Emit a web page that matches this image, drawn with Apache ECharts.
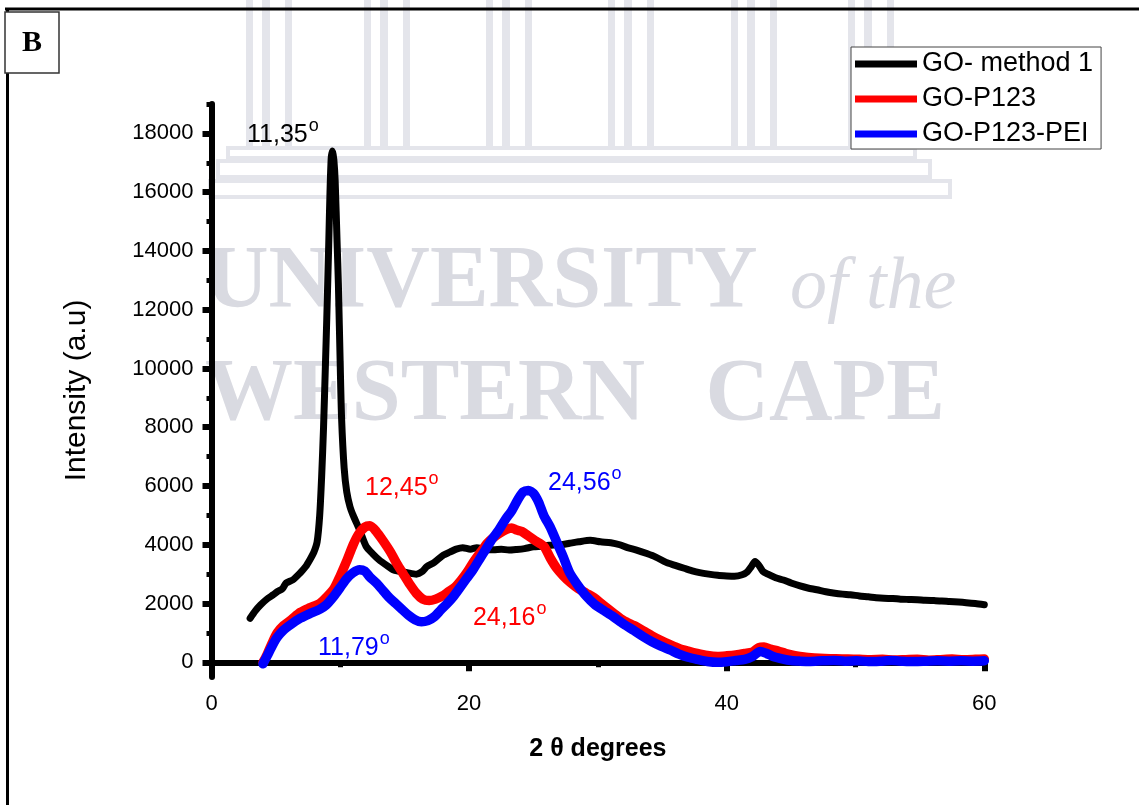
<!DOCTYPE html>
<html><head><meta charset="utf-8">
<script src="https://cdn.jsdelivr.net/npm/echarts@6/dist/echarts.min.js"></script>
<style>html,body{margin:0;padding:0;background:#fff}#c{width:1139px;height:805px}</style>
</head><body><div id="c"></div>
<script>
// ---------------- DATA ----------------
const seriesNames = ['GO- method 1', 'GO-P123', 'GO-P123-PEI'];
const seriesColors = ['#000000', '#ff0000', '#0000ff'];

const goX = [3.0,3.4,3.8,4.3,4.8,5.1,5.5,5.8,6.3,6.9,7.3,7.65,7.95,8.2,8.4,8.55,8.7,8.85,8.95,9.1,9.2,9.3,9.4,9.5,9.6,9.75,9.85,10.0,10.1,10.3,10.5,10.75,11.0,11.5,12.0,12.5,13.1,13.6,14.1,14.6,15.2,15.9,16.4,16.7,17.3,18.0,18.5,19.0,19.5,20.1,20.6,21.2,21.9,22.5,23.1,23.7,24.3,25.0,25.6,26.2,27.1,27.8,28.5,29.4,30.2,31.0,31.7,32.3,33.0,33.8,34.5,35.3,36.0,36.7,37.4,37.9,38.6,39.3,40.0,40.6,41.2,41.6,41.9,42.2,42.5,42.8,43.2,43.8,44.4,45.0,45.7,46.3,47.0,47.7,48.4,49.0,49.6,50.3,51.0,51.6,52.2,52.9,53.5,54.1,54.8,55.4,56.1,56.7,57.3,58.0,58.6,59.3,60.0];
const goY = [1500,1750,1950,2150,2300,2400,2500,2700,2800,3050,3250,3500,3750,4100,5000,6300,8000,10200,11700,14200,16000,17200,17400,17100,16400,14300,12900,10000,8300,6600,5800,5300,5000,4500,3950,3700,3450,3300,3150,3100,3050,3000,3100,3250,3400,3650,3750,3850,3900,3850,3900,3850,3830,3850,3820,3840,3870,3930,3950,3980,4000,4050,4100,4150,4100,4070,4000,3900,3820,3700,3580,3400,3300,3200,3100,3050,3000,2960,2940,2930,2980,3080,3250,3430,3300,3100,3000,2880,2800,2700,2600,2530,2470,2400,2350,2320,2300,2260,2230,2200,2180,2170,2150,2140,2130,2110,2100,2090,2070,2050,2030,2000,1960];

const p123X = [4.0,4.3,4.7,5.1,5.6,6.2,6.9,7.6,8.4,8.9,9.5,10.0,10.5,11.0,11.4,11.9,12.3,12.8,13.3,13.9,14.4,14.9,15.4,15.9,16.4,16.9,17.4,17.9,18.4,18.9,19.4,19.9,20.4,20.9,21.4,21.9,22.4,22.9,23.3,23.7,24.1,24.6,25.1,25.8,26.3,26.8,27.3,27.9,28.5,29.1,29.7,30.4,31.2,32.0,32.8,33.5,34.2,34.9,35.6,36.3,37.0,37.7,38.5,39.3,40.0,40.7,41.4,42.0,42.5,42.9,43.4,44.0,44.6,45.3,46.0,46.8,47.6,48.5,49.4,50.3,51.2,52.1,53.0,53.9,54.8,55.7,56.6,57.5,58.4,59.3,60.0];
const p123Y = [0,250,650,1000,1250,1450,1700,1850,2000,2200,2500,2950,3450,4000,4350,4600,4650,4450,4150,3750,3350,3000,2650,2350,2150,2100,2150,2250,2400,2550,2800,3100,3450,3750,4050,4250,4400,4520,4570,4500,4450,4300,4150,3950,3550,3200,2950,2700,2500,2350,2200,1950,1680,1420,1250,1080,900,740,600,470,380,300,230,200,220,250,300,350,500,520,450,380,300,230,180,150,130,120,110,100,90,100,80,90,100,70,90,110,90,100,110];

const peiX = [4.0,4.3,4.7,5.1,5.6,6.2,6.9,7.6,8.4,8.9,9.5,10.0,10.5,11.0,11.5,11.9,12.3,12.8,13.3,13.8,14.3,14.8,15.3,15.8,16.3,16.8,17.3,17.8,18.3,18.8,19.3,19.8,20.3,20.8,21.3,21.8,22.3,22.8,23.3,23.8,24.2,24.6,25.0,25.4,25.8,26.3,26.8,27.3,27.8,28.4,29.1,29.8,30.5,31.2,32.0,32.8,33.5,34.2,34.9,35.6,36.3,37.0,37.7,38.5,39.3,40.0,40.7,41.4,42.0,42.6,43.1,43.6,44.3,45.0,45.7,46.5,47.4,48.3,49.2,50.1,51.0,51.9,52.8,53.7,54.6,55.5,56.4,57.3,58.2,59.1,60.0];
const peiY = [-50,200,550,850,1100,1300,1500,1650,1800,1950,2250,2550,2850,3050,3150,3100,2900,2700,2450,2200,2000,1800,1600,1450,1380,1420,1550,1780,2000,2250,2550,2850,3150,3500,3850,4200,4500,4850,5150,5550,5800,5850,5750,5450,5000,4600,4100,3600,3050,2650,2250,1950,1750,1550,1300,1080,880,700,550,420,280,170,100,30,0,20,60,100,200,370,300,200,120,60,40,30,50,60,40,50,30,40,60,40,30,40,50,40,50,40,50];

const xTicks = [0, 20, 40, 60];
const yMajorTicks = [0,2000,4000,6000,8000,10000,12000,14000,16000,18000];
const yMinorTicks = [1000,3000,5000,7000,9000,11000,13000,15000,17000,19000];

const annotations = [
  {text: '11,35', x: 2.76, y: 17950, color: '#000000'},
  {text: '12,45', x: 11.92, y: 5940, color: '#ff0000'},
  {text: '24,56', x: 26.13, y: 6110, color: '#0000ff'},
  {text: '24,16', x: 20.3, y: 1510, color: '#ff0000'},
  {text: '11,79', x: 8.27, y: 490, color: '#0000ff'}
];

// ---------------- CHART ----------------
const FONT = "'Liberation Sans', Arial, sans-serif";
const SERIF = "'Liberation Serif', 'Times New Roman', serif";
const zip = (a, b) => a.map((v, i) => [v, b[i]]);
const seriesData = [zip(goX, goY), zip(p123X, p123Y), zip(peiX, peiY)];
const lineWidths = [7, 9.5, 9.5];

const chart = echarts.init(document.getElementById('c'), null, {renderer: 'canvas'});

// watermark (decorative background)
const wmColor = '#e4e5eb';
const wmText = '#d9dae1';
const wm = [];
[246, 364, 486, 608, 731, 848].forEach(gx => {
  [[0, 7], [16, 8], [39, 7]].forEach(([o, w]) => {
    wm.push({type: 'rect', shape: {x: gx + o, y: 0, width: w, height: 147}, style: {fill: wmColor}, z: 0, silent: true});
  });
});
[[228, 148, 687, 10], [218, 161, 712, 16], [210, 181, 740, 16]].forEach(([x, y, w, h]) => {
  wm.push({type: 'rect', shape: {x, y, width: w, height: h}, style: {fill: 'none', stroke: wmColor, lineWidth: 4}, z: 0, silent: true});
});
wm.push({type: 'text', x: 205, y: 283, style: {text: 'UNIVERSITY', fill: wmText, font: 'bold 88px ' + SERIF, align: 'left', verticalAlign: 'middle'}, z: 0, silent: true});
wm.push({type: 'text', x: 790, y: 289, style: {text: 'of the', fill: wmText, font: 'italic 74px ' + SERIF, align: 'left', verticalAlign: 'middle'}, z: 0, silent: true});
wm.push({type: 'text', x: 205, y: 396, style: {text: 'WESTERN', fill: wmText, font: 'bold 88px ' + SERIF, align: 'left', verticalAlign: 'middle'}, z: 0, silent: true});
wm.push({type: 'text', x: 945, y: 396, style: {text: 'CAPE', fill: wmText, font: 'bold 88px ' + SERIF, align: 'right', verticalAlign: 'middle'}, z: 0, silent: true});

// frame + panel letter
const frame = [
  {type: 'line', shape: {x1: 5, y1: 9, x2: 1139, y2: 9}, style: {stroke: '#000', lineWidth: 3}, z: 100},
  {type: 'line', shape: {x1: 7.5, y1: 9, x2: 7.5, y2: 805}, style: {stroke: '#000', lineWidth: 3}, z: 100},
  {type: 'rect', shape: {x: 5, y: 12, width: 54, height: 61}, style: {fill: '#fff', stroke: '#333', lineWidth: 1.5}, z: 100},
  {type: 'text', x: 32, y: 43, style: {text: 'B', fill: '#000', font: 'bold 30px ' + SERIF, align: 'center', verticalAlign: 'middle'}, z: 101}
];

const option = {
  animation: false,
  backgroundColor: '#ffffff',
  grid: {left: 211.5, right: 154.7, top: 104, bottom: 128, containLabel: false},
  legend: {
    data: seriesNames,
    orient: 'vertical', left: 851, top: 47,
    icon: 'rect', itemWidth: 62, itemHeight: 7, itemGap: 5,
    padding: [2, 8, 0, 4],
    borderColor: '#444', borderWidth: 1, backgroundColor: '#fff',
    textStyle: {fontSize: 27, lineHeight: 30, color: '#000', fontFamily: FONT}
  },
  xAxis: {
    type: 'value', min: 0, max: 60, interval: 20,
    axisLine: {lineStyle: {color: '#000', width: 6}},
    axisTick: {length: 9, lineStyle: {color: '#000', width: 6}},
    minorTick: {show: true, splitNumber: 2, length: 5, lineStyle: {color: '#000', width: 5}},
    axisLabel: {fontSize: 22, color: '#000', margin: 16, fontFamily: FONT,
      customValues: xTicks, formatter: v => String(v)},
    splitLine: {show: false}, minorSplitLine: {show: false},
    name: '2 θ degrees', nameLocation: 'middle', nameGap: 60,
    nameTextStyle: {fontSize: 25, fontWeight: 'bold', color: '#000', fontFamily: FONT}
  },
  yAxis: [{
    type: 'value', min: -500, max: 19000, position: 'left',
    axisLine: {show: true, lineStyle: {color: '#000', width: 6}},
    axisTick: {show: true, length: 9, lineStyle: {color: '#000', width: 6}, customValues: yMajorTicks},
    axisLabel: {fontSize: 22, color: '#000', margin: 18, fontFamily: FONT, customValues: yMajorTicks,
      formatter: v => String(v)},
    splitLine: {show: false},
    name: 'Intensity (a.u)', nameLocation: 'middle', nameGap: 120,
    nameTextStyle: {fontSize: 30, color: '#000', fontFamily: FONT}
  }, {
    type: 'value', min: -500, max: 19000, position: 'left',
    axisLine: {show: false},
    axisTick: {show: true, length: 5, lineStyle: {color: '#000', width: 5}, customValues: yMinorTicks},
    axisLabel: {show: false, customValues: yMinorTicks},
    splitLine: {show: false}
  }],
  series: seriesNames.map((name, i) => ({
    name, type: 'line', data: seriesData[i], yAxisIndex: 0,
    showSymbol: false, symbol: 'none', smooth: 0.25,
    lineStyle: {color: seriesColors[i], width: lineWidths[i], cap: 'round', join: 'round'},
    itemStyle: {color: seriesColors[i]},
    z: 2 + i
  })),
  graphic: {elements: wm.concat(frame)}
};
chart.setOption(option);

// annotations anchored in data coordinates, with a raised "o" (degree mark)
const mctx = document.createElement('canvas').getContext('2d');
mctx.font = '25px ' + FONT;
const annEls = [];
annotations.forEach(a => {
  const p = chart.convertToPixel({gridIndex: 0}, [a.x, a.y]);
  const w = mctx.measureText(a.text).width;
  annEls.push({type: 'text', x: p[0], y: p[1], z: 50,
    style: {text: a.text, fill: a.color, font: '25px ' + FONT, align: 'left', verticalAlign: 'middle'}});
  annEls.push({type: 'text', x: p[0] + w + 1, y: p[1] - 9, z: 50,
    style: {text: 'o', fill: a.color, font: '18px ' + FONT, align: 'left', verticalAlign: 'middle'}});
});
chart.setOption({graphic: {elements: wm.concat(frame, annEls)}}, {replaceMerge: ['graphic']});
</script>
</body></html>
